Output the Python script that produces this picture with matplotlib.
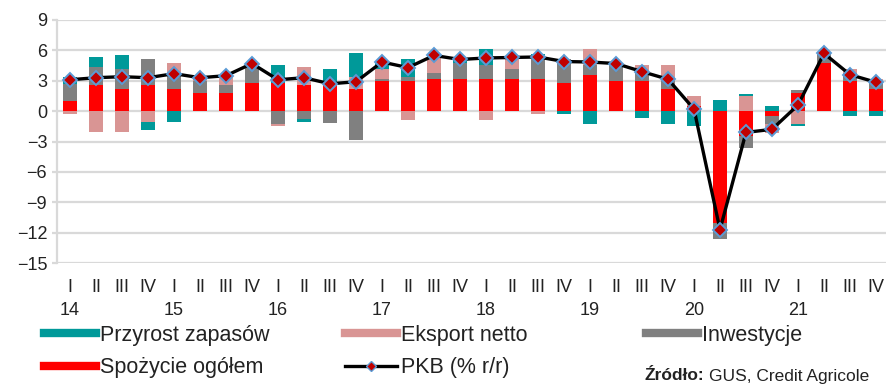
import numpy as np
import matplotlib
matplotlib.use('Agg')
from matplotlib import pyplot as plt
from matplotlib.lines import Line2D

##==============================================================================
## Data: contributions to GDP growth (pp), 2014Q1 - 2021Q4
##==============================================================================
years = ['14', '15', '16', '17', '18', '19', '20', '21']
quarters = ['I', 'II', 'III', 'IV']

spozycie = [1.0, 2.6, 2.15, 2.6, 2.2, 1.8, 1.8, 2.8,
            2.8, 2.6, 2.6, 2.2, 3.0, 3.0, 3.2, 3.2,
            3.2, 3.2, 3.2, 2.8, 3.6, 3.0, 2.95, 2.2,
            0.5, -11.0, -2.5, -0.5, 1.8, 4.75, 3.0, 2.15]
inwestycje = [1.65, 1.75, 2.0, 2.55, 1.4, 1.15, 0.75, 1.5,
              -1.3, -0.8, -1.2, -2.85, 0.2, 0.4, 0.6, 1.6,
              1.4, 1.0, 2.3, 2.3, 1.0, 1.7, 0.8, 0.8,
              0.0, -1.6, -1.1, -0.8, 0.25, 0.9, 0.8, 0.8]
eksport = [-0.3, -2.1, -2.1, -1.1, 1.2, 0.3, 1.0, 0.4,
           -0.15, 1.75, 0.3, 1.2, 1.0, -0.9, 1.5, 0.0,
           -0.9, 1.1, -0.3, 0.0, 1.55, 0.0, 0.85, 1.55,
           0.95, 0.0, 1.5, -0.9, -1.3, 0.0, 0.4, 0.25]
zapasy = [0.7, 1.0, 1.4, -0.8, -1.1, 0.0, 0.0, 0.0,
          1.8, -0.25, 1.3, 2.35, 0.6, 1.75, 0.15, 0.3,
          1.55, 0.0, 0.1, -0.3, -1.3, 0.0, -0.7, -1.3,
          -1.45, 1.05, 0.15, 0.5, -0.15, 0.0, -0.5, -0.5]
pkb = [3.1, 3.3, 3.4, 3.3, 3.7, 3.3, 3.5, 4.7,
       3.1, 3.3, 2.7, 2.9, 4.85, 4.3, 5.5, 5.1,
       5.25, 5.3, 5.35, 4.9, 4.85, 4.7, 3.9, 3.15,
       0.2, -11.7, -2.1, -1.8, 0.6, 5.7, 3.6, 2.85]

##==============================================================================
plt.rcParams['font.family'] = ['Liberation Sans', 'DejaVu Sans']

c_spoz = '#FF0000'
c_inw = '#808080'
c_eks = '#D99594'
c_zap = '#009999'
c_grid = '#D9D9D9'
c_text = '#222222'

fig = plt.figure(figsize=(8.87, 3.85), dpi=100)
ax = fig.add_axes([57/887., 1 - 263/385., 832/887., 243/385.])

x = np.arange(len(pkb))
pos_base = np.zeros(len(x))
neg_base = np.zeros(len(x))
series = [(spozycie, c_spoz), (inwestycje, c_inw), (eksport, c_eks), (zapasy, c_zap)]
for vals, col in series:
    vals = np.array(vals)
    bottom = np.where(vals >= 0, pos_base, neg_base)
    ax.bar(x, vals, bottom=bottom, width=0.54, color=col, zorder=2)
    pos_base = pos_base + np.where(vals > 0, vals, 0)
    neg_base = neg_base + np.where(vals < 0, vals, 0)

ax.plot(x, pkb, color='black', lw=2.4, marker='D', ms=7, mfc='#C00000',
        mec='#5B9BD5', mew=1.4, zorder=4)

ax.set_xlim(-0.5, len(x) - 0.5)
ax.set_ylim(-15, 9)
ax.set_yticks(np.arange(-15, 10, 3))
ax.yaxis.grid(True, color=c_grid, lw=1.6)
ax.set_axisbelow(True)
for s in ['top', 'right', 'bottom']:
    ax.spines[s].set_visible(False)
ax.spines['left'].set_color(c_grid)
ax.spines['left'].set_linewidth(1.6)
ax.tick_params(axis='y', length=3.6, width=1.6, color=c_grid, pad=3.5,
               labelsize=13, labelcolor=c_text)

ax.set_xticks(x)
ax.set_xticklabels(quarters * len(years))
ax.tick_params(axis='x', length=0, pad=11.5, labelsize=13, labelcolor=c_text)

for n, yr in enumerate(years):
    ax.annotate(yr, xy=(4 * n, 0), xycoords=('data', 'axes fraction'),
                xytext=(0, -34), textcoords='offset points',
                ha='center', va='center', fontsize=13, color=c_text)

# legend, laid out like the Excel one (3 columns, 2 rows)
legend_items = [
    (Line2D([], [], color=c_zap, lw=6), 'Przyrost zapasów', 44, 335),
    (Line2D([], [], color=c_eks, lw=6), 'Eksport netto', 345, 335),
    (Line2D([], [], color=c_inw, lw=6), 'Inwestycje', 646, 335),
    (Line2D([], [], color=c_spoz, lw=6), 'Spożycie ogółem', 44, 368),
    (Line2D([], [], color='black', lw=2.4, marker='D', ms=5, mfc='#C00000',
            mec='#5B9BD5', mew=1.0), 'PKB (% r/r)', 345, 368),
]
for h, lab, px, py in legend_items:
    fig.legend([h], [lab], loc='center left',
               bbox_to_anchor=(px/887., 1 - py/385.), frameon=False,
               fontsize=15.5, handlelength=2.4, handletextpad=0.2,
               borderpad=0, borderaxespad=0, labelcolor=c_text)

t1 = fig.text(645/887., 1 - 376/385., 'Źródło:', fontsize=12.5, fontweight='bold',
              va='center', ha='left', color=c_text)
fig.canvas.draw()
bb = t1.get_window_extent()
fig.text(bb.x1/887. + 4/887., 1 - 376/385., 'GUS, Credit Agricole', fontsize=12.5,
         va='center', ha='left', color=c_text)

plt.savefig('out.png', dpi=100)
